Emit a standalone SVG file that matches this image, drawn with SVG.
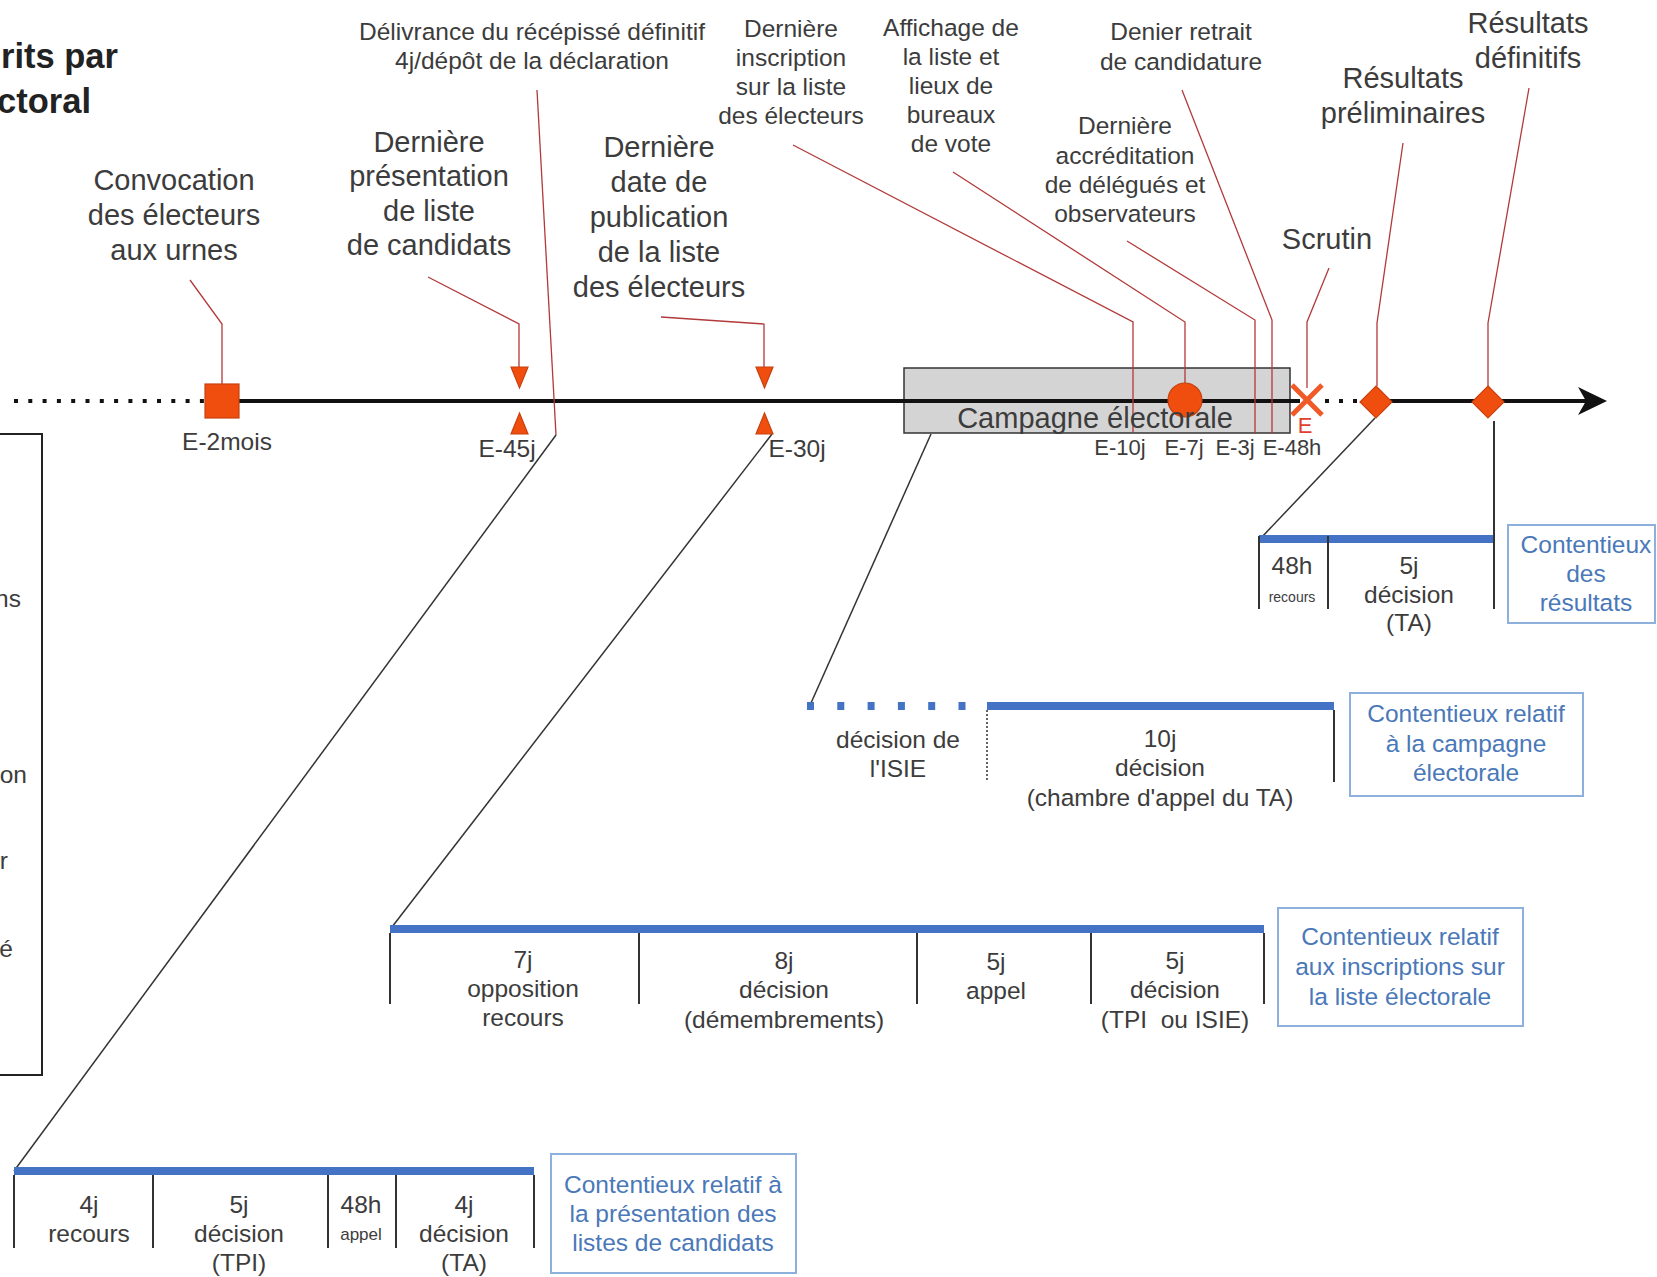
<svg xmlns="http://www.w3.org/2000/svg" width="1657" height="1277" viewBox="0 0 1657 1277">
<defs>
<style>
.t{font-family:"Liberation Sans",Arial,sans-serif;fill:#3c3c3c;text-anchor:middle}
.b{font-size:29px}
.m{font-size:24.5px}
.s{font-size:22px}
.blue{fill:#4a78b8}
.lead{fill:none;stroke:#b23a3a;stroke-width:1.3}
.conn{fill:none;stroke:#333;stroke-width:1.5}
.mk{fill:#f04e0f;stroke:#c8410f;stroke-width:1.2}
.bar{stroke:#4472c4;stroke-width:8}
.div{stroke:#333;stroke-width:2}
.bbox{fill:#fff;stroke:#8eb0dd;stroke-width:2}
</style>
</defs>
<rect width="1657" height="1277" fill="#fff"/>

<g id="title">
<text x="1" y="68" style="font-family:'Liberation Sans',Arial,sans-serif;font-weight:bold;font-size:34.5px;fill:#222">rits par</text>
<text x="91" y="113" text-anchor="end" style="font-family:'Liberation Sans',Arial,sans-serif;font-weight:bold;font-size:34.5px;fill:#222">ctoral</text>
</g>

<g id="legend-box">
<rect x="-5" y="434" width="47" height="641" fill="none" stroke="#222" stroke-width="2"/>
<text class="t m" x="21" y="607" style="text-anchor:end">ns</text>
<text class="t m" x="27" y="783" style="text-anchor:end">on</text>
<text class="t m" x="8" y="869" style="text-anchor:end">r</text>
<text class="t m" x="13" y="957" style="text-anchor:end">é</text>
</g>

<g id="campagne">
<rect x="904" y="368" width="386" height="65" fill="#d4d4d4" stroke="#333" stroke-width="1.5"/>
</g>

<g id="axis">
<line x1="14" y1="401" x2="204" y2="401" stroke="#111" stroke-width="4" stroke-dasharray="4 10.3"/>
<line x1="239" y1="401" x2="1300" y2="401" stroke="#111" stroke-width="4"/>
<line x1="1325" y1="401" x2="1362" y2="401" stroke="#111" stroke-width="4" stroke-dasharray="4 10"/>
<line x1="1390" y1="401" x2="1588" y2="401" stroke="#111" stroke-width="4"/>
<path d="M1607,401 L1578,387 L1586,401 L1578,415 Z" fill="#111"/>
</g>

<g id="connectors">
<polyline class="lead" points="190,280 222,324 222,385"/>
<polyline class="lead" points="428,277 519,324 519,367"/>
<polyline class="lead" points="537,90 556,435"/>
<polyline class="lead" points="661,317 764,324 764,367"/>
<polyline class="lead" points="793,145 1133,322 1133,432"/>
<polyline class="lead" points="953,172 1185,322 1185,383"/>
<polyline class="lead" points="1127,241 1255,320 1255,434"/>
<polyline class="lead" points="1182,90 1272,320 1272,434"/>
<polyline class="lead" points="1329,268 1307,322 1307,388"/>
<polyline class="lead" points="1403,143 1377,323 1377,386"/>
<polyline class="lead" points="1529,88 1488,323 1488,386"/>
<line class="conn" x1="556" y1="435" x2="14" y2="1171"/>
<line class="conn" x1="772" y1="434" x2="392" y2="927"/>
<line class="conn" x1="931" y1="434" x2="811" y2="703"/>
<line class="conn" x1="1375" y1="418" x2="1260" y2="539"/>
</g>

<g id="markers">
<rect class="mk" x="205" y="384" width="34" height="34"/>
<polygon class="mk" points="511,367 528,367 519.5,388"/>
<polygon class="mk" points="519.5,413 528,434 511,434"/>
<polygon class="mk" points="756,367 773,367 764.5,388"/>
<polygon class="mk" points="764.5,413 773,434 756,434"/>
<circle class="mk" cx="1185" cy="400" r="17"/>
<g stroke="#f05a28" stroke-width="5">
<line x1="1292" y1="385" x2="1322" y2="415"/>
<line x1="1322" y1="385" x2="1292" y2="415"/>
</g>
<polygon class="mk" points="1376,386 1392,402 1376,418 1360,402"/>
<polygon class="mk" points="1488,386 1504,402 1488,418 1472,402"/>
</g>

<g id="labels-top">
<text class="t b" x="174" y="190">Convocation</text>
<text class="t b" x="174" y="225">des électeurs</text>
<text class="t b" x="174" y="260">aux urnes</text>

<text class="t b" x="429" y="152">Dernière</text>
<text class="t b" x="429" y="186">présentation</text>
<text class="t b" x="429" y="221">de liste</text>
<text class="t b" x="429" y="255">de candidats</text>

<text class="t m" x="532" y="40">Délivrance du récépissé définitif</text>
<text class="t m" x="532" y="69">4j/dépôt de la déclaration</text>

<text class="t b" x="659" y="157">Dernière</text>
<text class="t b" x="659" y="192">date de</text>
<text class="t b" x="659" y="227">publication</text>
<text class="t b" x="659" y="262">de la liste</text>
<text class="t b" x="659" y="297">des électeurs</text>

<text class="t m" x="791" y="37">Dernière</text>
<text class="t m" x="791" y="66">inscription</text>
<text class="t m" x="791" y="95">sur la liste</text>
<text class="t m" x="791" y="124">des électeurs</text>

<text class="t m" x="951" y="36">Affichage de</text>
<text class="t m" x="951" y="65">la liste et</text>
<text class="t m" x="951" y="94">lieux de</text>
<text class="t m" x="951" y="123">bureaux</text>
<text class="t m" x="951" y="152">de vote</text>

<text class="t m" x="1125" y="134">Dernière</text>
<text class="t m" x="1125" y="164">accréditation</text>
<text class="t m" x="1125" y="193">de délégués et</text>
<text class="t m" x="1125" y="222">observateurs</text>

<text class="t m" x="1181" y="40">Denier retrait</text>
<text class="t m" x="1181" y="70">de candidature</text>

<text class="t b" x="1327" y="249">Scrutin</text>

<text class="t b" x="1403" y="88">Résultats</text>
<text class="t b" x="1403" y="123">préliminaires</text>

<text class="t b" x="1528" y="33">Résultats</text>
<text class="t b" x="1528" y="68">définitifs</text>
</g>

<g id="labels-axis">
<text class="t b" x="1095" y="428">Campagne électorale</text>
<text class="t m" x="227" y="450">E-2mois</text>
<text class="t m" x="507" y="457">E-45j</text>
<text class="t m" x="797" y="457">E-30j</text>
<text class="t s" x="1120" y="455">E-10j</text>
<text class="t s" x="1184" y="455">E-7j</text>
<text class="t s" x="1235" y="455">E-3j</text>
<text class="t s" x="1292" y="455">E-48h</text>
<text class="t s" x="1305" y="433" style="fill:#e0402e">E</text>
</g>

<g id="contentieux-resultats">
<line class="bar" x1="1259" y1="539" x2="1494" y2="539"/>
<line class="div" x1="1259" y1="536" x2="1259" y2="609"/>
<line class="div" x1="1328" y1="536" x2="1328" y2="609"/>
<line class="div" x1="1494" y1="421" x2="1494" y2="609"/>
<text class="t m" x="1292" y="574">48h</text>
<text class="t" x="1292" y="602" style="font-size:14px">recours</text>
<text class="t m" x="1409" y="574">5j</text>
<text class="t m" x="1409" y="603">décision</text>
<text class="t m" x="1409" y="631">(TA)</text>
<rect class="bbox" x="1508" y="525" width="147" height="98"/>
<text class="t m blue" x="1586" y="553">Contentieux</text>
<text class="t m blue" x="1586" y="582">des</text>
<text class="t m blue" x="1586" y="611">résultats</text>
</g>

<g id="contentieux-campagne">
<line x1="807" y1="706" x2="970" y2="706" stroke="#4472c4" stroke-width="8" stroke-dasharray="7 23.3"/>
<line class="bar" x1="987" y1="706" x2="1334" y2="706"/>
<line x1="987" y1="710" x2="987" y2="782" stroke="#333" stroke-width="1.5" stroke-dasharray="2 2"/>
<line class="div" x1="1334" y1="710" x2="1334" y2="782"/>
<text class="t m" x="898" y="748">décision de</text>
<text class="t m" x="898" y="777">l'ISIE</text>
<text class="t m" x="1160" y="747">10j</text>
<text class="t m" x="1160" y="776">décision</text>
<text class="t m" x="1160" y="806">(chambre d'appel du TA)</text>
<rect class="bbox" x="1350" y="693" width="233" height="103"/>
<text class="t m blue" x="1466" y="722">Contentieux relatif</text>
<text class="t m blue" x="1466" y="752">à la campagne</text>
<text class="t m blue" x="1466" y="781">électorale</text>
</g>

<g id="contentieux-inscriptions">
<line class="bar" x1="390" y1="929" x2="1264" y2="929"/>
<line class="div" x1="390" y1="933" x2="390" y2="1004"/>
<line class="div" x1="639" y1="933" x2="639" y2="1004"/>
<line class="div" x1="917" y1="933" x2="917" y2="1004"/>
<line class="div" x1="1091" y1="933" x2="1091" y2="1004"/>
<line class="div" x1="1264" y1="933" x2="1264" y2="1004"/>
<text class="t m" x="523" y="968">7j</text>
<text class="t m" x="523" y="997">opposition</text>
<text class="t m" x="523" y="1026">recours</text>
<text class="t m" x="784" y="969">8j</text>
<text class="t m" x="784" y="998">décision</text>
<text class="t m" x="784" y="1028">(démembrements)</text>
<text class="t m" x="996" y="970">5j</text>
<text class="t m" x="996" y="999">appel</text>
<text class="t m" x="1175" y="969">5j</text>
<text class="t m" x="1175" y="998">décision</text>
<text class="t m" x="1175" y="1028" style="white-space:pre">(TPI  ou ISIE)</text>
<rect class="bbox" x="1278" y="908" width="245" height="118"/>
<text class="t m blue" x="1400" y="945">Contentieux relatif</text>
<text class="t m blue" x="1400" y="975">aux inscriptions sur</text>
<text class="t m blue" x="1400" y="1005">la liste électorale</text>
</g>

<g id="contentieux-presentation">
<line class="bar" x1="14" y1="1171" x2="534" y2="1171"/>
<line class="div" x1="14" y1="1175" x2="14" y2="1248"/>
<line class="div" x1="153" y1="1175" x2="153" y2="1248"/>
<line class="div" x1="328" y1="1175" x2="328" y2="1248"/>
<line class="div" x1="396" y1="1175" x2="396" y2="1248"/>
<line class="div" x1="534" y1="1175" x2="534" y2="1248"/>
<text class="t m" x="89" y="1213">4j</text>
<text class="t m" x="89" y="1242">recours</text>
<text class="t m" x="239" y="1213">5j</text>
<text class="t m" x="239" y="1242">décision</text>
<text class="t m" x="239" y="1271">(TPI)</text>
<text class="t m" x="361" y="1213">48h</text>
<text class="t" x="361" y="1240" style="font-size:17px">appel</text>
<text class="t m" x="464" y="1213">4j</text>
<text class="t m" x="464" y="1242">décision</text>
<text class="t m" x="464" y="1271">(TA)</text>
<rect class="bbox" x="551" y="1154" width="245" height="119"/>
<text class="t m blue" x="673" y="1193">Contentieux relatif à</text>
<text class="t m blue" x="673" y="1222">la présentation des</text>
<text class="t m blue" x="673" y="1251">listes de candidats</text>
</g>
</svg>
